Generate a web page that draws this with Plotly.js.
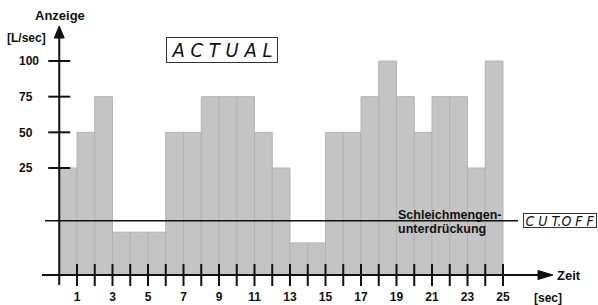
<!DOCTYPE html>
<html><head><meta charset="utf-8">
<script src="https://cdn.plot.ly/plotly-3.0.1.min.js"></script>
<style>html,body{margin:0;padding:0;background:#fff;overflow:hidden}</style>
</head><body><div id="chart" style="width:598px;height:305px"></div>
<script>
// ---- data ----
const seconds = [1,2,3,4,5,6,7,8,9,10,11,12,13,14,15,16,17,18,19,20,21,22,23,24,25];
const flowValues = [25,50,75,-20,-20,-20,50,50,75,75,75,50,25,-27.5,-27.5,50,50,75,100,75,50,75,75,25,100];
const yTickValues = [25,50,75,100];
const yTickLabels = ['25','50','75','100'];
const xTickValues = [1,3,5,7,9,11,13,15,17,19,21,23,25];
const xTickLabels = ['1','3','5','7','9','11','13','15','17','19','21','23','25'];
const AXIS_BASE = -50;   // level of the time axis on the value scale
const CUTOFF = -12;      // Schleichmengenunterdrückung level

// ---- layout constants ----
const W = 598, H = 305;
const xRange = [-3.338, 30.352], yRange = [-71.03, 142.76];
const dx = px => xRange[0] + px / W * (xRange[1] - xRange[0]);
const dy = py => yRange[1] - py / H * (yRange[1] - yRange[0]);
const ux = px => px / W * (xRange[1] - xRange[0]);
const uy = py => py / H * (yRange[1] - yRange[0]);
const INK = '#111';
const FONT = 'Liberation Sans, Arial, Helvetica, sans-serif';
const LCD = 'DejaVu Sans Condensed, Liberation Sans Narrow, Liberation Sans, sans-serif';

const trace = {
  type: 'bar', x: seconds, y: flowValues.map(v => v - AXIS_BASE), base: AXIS_BASE,
  width: 1, offset: -1,
  marker: {color: '#c4c4c4', line: {color: '#b3b3b3', width: 1}},
  hoverinfo: 'skip'
};

const shapes = [];
const line = (x0, y0, x1, y1, w) => ({type: 'line', xref: 'x', yref: 'y', x0, y0, x1, y1, line: {color: INK, width: w}});
// y axis with arrow
shapes.push(line(0, dy(285), 0, dy(37), 2));
shapes.push({type: 'path', xref: 'x', yref: 'y', fillcolor: INK, line: {color: INK, width: 1},
  path: `M 0 ${dy(26)} L ${-ux(5)} ${dy(38)} L ${ux(5)} ${dy(38)} Z`});
// x axis with arrow
shapes.push(line(dx(42), AXIS_BASE, dx(540), AXIS_BASE, 2));
shapes.push({type: 'path', xref: 'x', yref: 'y', fillcolor: INK, line: {color: INK, width: 1},
  path: `M ${dx(553)} ${AXIS_BASE} L ${dx(538)} ${AXIS_BASE + uy(4.5)} L ${dx(538)} ${AXIS_BASE - uy(4.5)} Z`});
// x ticks
seconds.forEach(s => shapes.push(line(s, AXIS_BASE - uy(11), s, AXIS_BASE + uy(11), 2)));
// y ticks
yTickValues.forEach(v => shapes.push(line(-ux(11), v, ux(11), v, 2)));
// cutoff line
shapes.push(line(dx(45), CUTOFF, dx(518), CUTOFF, 1.6));

const txt = (text, px, py, size, xanchor, extra) => Object.assign({
  text, xref: 'paper', yref: 'paper', x: px / W, y: 1 - py / H, xanchor: xanchor || 'center', yanchor: 'middle',
  showarrow: false, font: {family: FONT, size, color: INK, weight: 'bold'}
}, extra || {});

const annotations = [
  txt('Anzeige', 59.5, 15, 13),
  txt('[L/sec]', 26, 38, 12),
  txt('Zeit', 555, 275, 13, 'left'),
  txt('[sec]', 532, 298, 12, 'left'),
  txt('Schleichmengen-', 396, 215, 12.5, 'left'),
  txt('unterdrückung', 396, 229, 12.5, 'left'),
  txt('A C T U A L', 222, 50, 20, 'center', {font: {family: LCD, size: 20, color: INK, style: 'italic', weight: 'normal'},
     bordercolor: '#333', borderwidth: 1, borderpad: 0, width: 110, height: 24}),
  txt('C U T.O F F', 560, 220.5, 14, 'center', {font: {family: LCD, size: 14, color: INK, style: 'italic', weight: 'normal'},
     bordercolor: '#333', borderwidth: 1, borderpad: 0, width: 72, height: 13})
];

const layout = {
  width: W, height: H, margin: {l: 0, r: 0, t: 0, b: 0},
  paper_bgcolor: '#fff', plot_bgcolor: '#fff', showlegend: false, bargap: 0,
  xaxis: {range: xRange, anchor: 'free', position: 30 / H, showline: false, showgrid: false, zeroline: false,
    ticks: '', tickvals: xTickValues, ticktext: xTickLabels, ticklabelstandoff: 13,
    tickfont: {family: FONT, size: 12, color: INK, weight: 'bold'}, fixedrange: true},
  yaxis: {range: yRange, anchor: 'free', position: 15 / W, side: 'left', ticklabelposition: 'inside',
    showline: false, showgrid: false, zeroline: false, ticks: '', tickvals: yTickValues, ticktext: yTickLabels,
    tickfont: {family: FONT, size: 12, color: INK, weight: 'bold'}, fixedrange: true},
  shapes, annotations
};

Plotly.newPlot('chart', [trace], layout, {staticPlot: true, displayModeBar: false});
</script></body></html>
